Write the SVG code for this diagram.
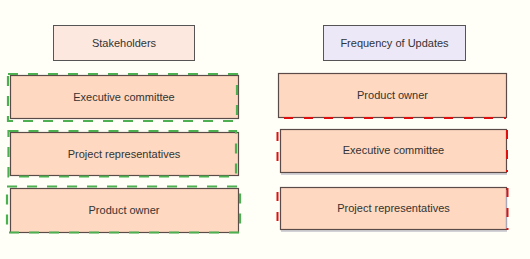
<svg xmlns="http://www.w3.org/2000/svg" width="530" height="259" viewBox="0 0 530 259">
<style>
.bg{fill:#fffff7}
.hdr{stroke:#555;stroke-width:1}
.item{fill:#fed8c0;stroke:#5a4a48;stroke-width:1.2}
.txt{font-family:"Liberation Sans",Arial,sans-serif;font-size:11px;fill:#333;text-anchor:middle}
.green{fill:none;stroke:#4caf50;stroke-width:2.2;stroke-dasharray:10 10}
.red{fill:none;stroke:#e01010;stroke-width:2;stroke-dasharray:9 11}
.shadow{stroke:#a8a8b8;stroke-width:1;fill:none}
</style>
<rect class="bg" x="0" y="0" width="530" height="259"/>
<g id="stakeholders">
<rect class="hdr" x="53.5" y="25.5" width="141" height="35" fill="#fde8e0"/>
<text class="txt" x="124" y="47">Stakeholders</text>
</g>
<g id="frequency">
<rect class="hdr" x="323.5" y="25.5" width="142" height="35" fill="#ece8f8"/>
<text class="txt" x="394.5" y="47">Frequency of Updates</text>
</g>
<g id="left-executive">
<rect class="item" x="10.5" y="75.5" width="228" height="43"/>
<rect class="green" x="8" y="74" width="229" height="47"/>
<text class="txt" x="124" y="101">Executive committee</text>
</g>
<g id="left-project">
<rect class="item" x="10.5" y="132.5" width="228" height="43"/>
<rect class="green" x="8.5" y="131" width="227.5" height="45.5"/>
<text class="txt" x="124" y="158">Project representatives</text>
</g>
<g id="left-product">
<rect class="item" x="10.5" y="188.5" width="228" height="44"/>
<rect class="green" x="7" y="186.5" width="233" height="46"/>
<text class="txt" x="124" y="214">Product owner</text>
</g>
<g id="right-product">
<rect class="item" x="278.5" y="73.5" width="228" height="44"/>
<line class="red" x1="284" y1="118" x2="506" y2="118"/>
<text class="txt" x="392.5" y="99">Product owner</text>
</g>
<g id="right-executive">
<line class="shadow" x1="281" y1="174" x2="507" y2="174"/>
<rect class="item" x="280.5" y="129.5" width="226" height="43"/>
<line class="red" x1="277.5" y1="132" x2="277.5" y2="172" stroke-dasharray="12 8"/>
<line class="red" x1="507" y1="130" x2="507" y2="172" stroke-dasharray="12 8"/>
<text class="txt" x="393.5" y="154">Executive committee</text>
</g>
<g id="right-project">
<line class="shadow" x1="281" y1="231" x2="507" y2="231"/>
<rect class="item" x="280.5" y="187.5" width="226" height="42"/>
<line class="shadow" x1="506.5" y1="190" x2="506.5" y2="229" stroke="#9a90c8" stroke-width="2"/>
<line class="red" x1="277.5" y1="192" x2="277.5" y2="229" stroke-dasharray="12 8"/>
<line class="red" x1="507.5" y1="188" x2="507.5" y2="230" stroke-dasharray="14 6"/>
<text class="txt" x="393.5" y="212">Project representatives</text>
</g>
<g id="connectors"></g>
</svg>
